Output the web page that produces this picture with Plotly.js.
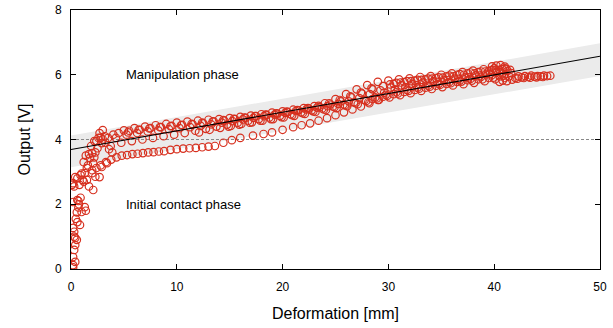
<!DOCTYPE html>
<html>
<head>
<meta charset="utf-8">
<script src="https://cdn.plot.ly/plotly-3.0.1.min.js"></script>
<style>html,body{margin:0;padding:0;background:#fff;}#chart{width:613px;height:328px;}</style>
</head>
<body>
<div id="chart"></div>
<script>
// Initial contact phase points
const contactX = [0.2,0.4,0.2,0.3,0.2,0.4,0.55,0.3,0.4,0.2,0.6,0.85,0.45,0.55,0.7,0.6,1.0,1.3,0.75,0.9,0.7,0.2,0.3,1.4,1.5,2.1,0.2,0.4,1.1,0.6,0.9,1.2,2.7,2.0,1.3,1.6,1.5,2.4,2.9,1.8,2.1,3.4,2.0,2.3,1.7,2.5,2.9,2.7,3.0,2.4,2.8,3.2,3.9,1.0,0.1,0.3,2.2,3.6,1.2,1.9,2.2,2.6,1.4,2.0,0.8,1.7,2.3];
const contactY = [0.12,0.22,0.37,0.59,0.05,0.74,0.9,1.0,0.96,1.27,1.45,1.36,1.55,1.75,1.9,2.13,1.76,1.91,2.0,2.2,2.1,2.07,2.55,1.8,2.75,2.44,2.65,2.84,2.75,2.8,2.9,2.7,2.84,2.96,2.96,3.2,3.12,3.12,3.15,3.43,3.27,3.27,3.58,3.6,3.55,3.73,3.89,4.2,4.29,3.95,4.05,4.1,3.6,2.95,2.6,1.15,3.45,3.7,3.3,3.8,3.95,4.05,3.5,3.05,2.6,2.55,2.85];

// Lower loading branch
const lowerX = [2.8,3.3,3.8,4.3,4.8,5.3,5.8,6.3,6.8,7.3,7.8,8.3,8.8,9.4,10.0,10.6,11.2,11.8,12.4,13.0,13.6,14.4,15.2,16.0,17.2,18.2,19.0,20.0,21.0,21.8,22.6,23.4,24.2,25.0,25.8,26.6,27.4,28.2,29.0];
const lowerY = [3.2,3.3,3.38,3.45,3.5,3.52,3.55,3.56,3.58,3.6,3.61,3.63,3.64,3.68,3.7,3.72,3.73,3.74,3.76,3.78,3.8,3.9,3.98,4.05,4.12,4.17,4.22,4.3,4.38,4.44,4.5,4.58,4.66,4.75,4.84,4.93,5.02,5.12,5.22];

// Main manipulation band rows
const row1X = [3,4,5,6,7,8,9,10,11,12,13,14,15,16,17,18,19,20,21,22,23,24,25,26,27,28,29,30,31,32,33,34,35,36,37,38,39,40,41];
const row1Y = [4.0,4.15,4.28,4.35,4.4,4.44,4.48,4.52,4.55,4.58,4.61,4.63,4.66,4.7,4.74,4.78,4.83,4.87,4.92,4.97,5.03,5.12,5.25,5.4,5.55,5.68,5.78,5.82,5.86,5.89,5.93,5.96,6.0,6.04,6.08,6.13,6.17,6.2,6.2];

const row2X = [3.5,4.5,5.5,6.5,7.5,8.5,9.5,10.5,11.5,12.5,13.5,14.5,15.5,16.5,17.5,18.5,19.5,20.5,21.5,22.5,23.5,24.5,25.5,26.5,27.5,28.5,29.5,30.5,31.5,32.5,33.5,34.5,35.5,36.5,37.5,38.5,39.5,40.5];
const row2Y = [4.05,4.2,4.27,4.3,4.35,4.38,4.42,4.45,4.47,4.5,4.55,4.58,4.63,4.67,4.72,4.76,4.8,4.85,4.9,4.95,5.0,5.08,5.18,5.3,5.42,5.55,5.65,5.72,5.77,5.82,5.86,5.9,5.95,6.0,6.04,6.08,6.12,6.15];

const row3X = [3.25,4.25,5.25,6.25,7.25,8.25,9.25,10.25,11.25,12.25,13.25,14.25,15.25,16.25,17.25,18.25,19.25,20.25,21.25,22.25,23.25,24.25,25.25,26.25,27.25,28.25,29.25,30.25,31.25,32.25,33.25,34.25,35.25,36.25,37.25,38.25,39.25,40.25,41.25];
const row3Y = [3.9,4.05,4.15,4.2,4.25,4.28,4.32,4.35,4.38,4.42,4.47,4.52,4.57,4.62,4.67,4.72,4.77,4.82,4.88,4.93,4.98,5.03,5.1,5.18,5.28,5.4,5.52,5.6,5.67,5.72,5.76,5.8,5.84,5.88,5.93,5.98,6.03,6.08,6.12];

const row4X = [3.75,4.75,5.75,6.75,7.75,8.75,9.75,10.75,11.75,12.75,13.75,14.75,15.75,16.75,17.75,18.75,19.75,20.75,21.75,22.75,23.75,24.75,25.75,26.75,27.75,28.75,29.75,30.75,31.75,32.75,33.75,34.75,35.75,36.75,37.75,38.75,39.75,40.75];
const row4Y = [3.8,3.9,3.95,4.0,4.05,4.1,4.15,4.2,4.27,4.33,4.4,4.46,4.52,4.58,4.63,4.68,4.73,4.78,4.84,4.9,4.96,5.02,5.08,5.15,5.22,5.3,5.38,5.46,5.53,5.6,5.66,5.72,5.77,5.82,5.87,5.93,5.98,6.04];

const row5X = [12.1,13.1,14.1,15.1,16.1,17.1,18.1,19.1,20.1,21.1,22.1,23.1,24.1,25.1,26.1,27.1,28.1,29.1,30.1,31.1,32.1,33.1,34.1,35.1,36.1,37.1,38.1,39.1,40.1];
const row5Y = [4.22,4.3,4.36,4.42,4.48,4.53,4.58,4.63,4.68,4.73,4.79,4.85,4.91,4.97,5.03,5.09,5.15,5.22,5.3,5.37,5.43,5.5,5.56,5.62,5.67,5.71,5.75,5.8,5.86];

const row6X = [28.5,29.5,30.5,31.5,32.5,33.5,34.5,35.5,36.5,37.5,38.5,39.5,40.5];
const row6Y = [5.25,5.32,5.4,5.47,5.53,5.6,5.66,5.72,5.78,5.83,5.86,5.9,5.95];

const row7X = [30.75,31.75,32.75,33.75,34.75,35.75,36.75,37.75,38.75,39.75,40.75];
const row7Y = [5.75,5.8,5.84,5.88,5.92,5.97,6.02,6.07,6.1,6.14,6.18];

const row8X = [5.4,6.4,7.4,8.4,9.4,10.4,11.4,12.4,13.4,14.4,15.4,16.4,17.4,18.4,19.4,20.4,21.4,22.4,23.4,24.4,25.4,26.4,27.4,28.4];
const row8Y = [4.22,4.3,4.34,4.38,4.41,4.44,4.48,4.52,4.56,4.6,4.64,4.68,4.72,4.77,4.81,4.86,4.91,4.97,5.04,5.12,5.22,5.33,5.45,5.58];

const row9X = [14.9,15.9,16.9,17.9,18.9,19.9,20.9,21.9,22.9,23.9,24.9,25.9,26.9,27.9,28.9,29.9,30.9,31.9,32.9,33.9,34.9,35.9,36.9,37.9,38.9,39.9,40.9];
const row9Y = [4.4,4.46,4.52,4.58,4.63,4.69,4.75,4.81,4.87,4.93,5.0,5.06,5.12,5.19,5.27,5.35,5.42,5.5,5.57,5.63,5.69,5.74,5.79,5.82,5.86,5.91,5.97];

const row10X = [30.15,31.15,32.15,33.15,34.15,35.15,36.15,37.15,38.15,39.15,40.15,41.15];
const row10Y = [5.7,5.76,5.8,5.84,5.88,5.91,5.95,6.0,6.04,6.1,6.15,6.18];

const row11X = [29.6,30.6,31.6,32.6,33.6,34.6,35.6,36.6,37.6,38.6,39.6,40.6];
const row11Y = [5.45,5.55,5.62,5.68,5.73,5.78,5.83,5.87,5.92,5.97,6.02,6.08];

// Unloading tail
const tailX = [41.5,41.6,41.4,41.7,41.2,42.0,42.3,42.6,42.9,43.2,43.5,43.8,44.1,44.4,44.7,45.0,45.3,42.2,42.8,43.4,44.0,44.6,41.0,40.8,40.5,41.0,40.6,40.2,39.8];
const tailY = [6.15,6.05,5.95,5.85,5.8,5.9,5.95,5.92,5.96,5.93,5.97,5.94,5.96,5.95,5.97,5.96,5.97,5.88,5.9,5.91,5.92,5.93,5.9,5.82,5.78,6.25,6.3,6.28,6.26];

// Linear fit and band
const fitX = [0, 50];
const fitY = [3.69, 6.57];
const bandX = [0, 50];
const bandTop = [4.12, 6.97];
const bandBottom = [3.14, 5.96];
const refX = [0, 50];
const refY = [4, 4];

const xTicks = [0, 10, 20, 30, 40, 50];
const yTicks = [0, 2, 4, 6, 8];

const allX = [].concat(contactX, lowerX, row1X, row2X, row3X, row4X, row5X, row6X, row7X, row8X, row9X, row10X, row11X, tailX);
const allY = [].concat(contactY, lowerY, row1Y, row2Y, row3Y, row4Y, row5Y, row6Y, row7Y, row8Y, row9Y, row10Y, row11Y, tailY);

const traces = [
  {x: bandX.concat(bandX.slice().reverse()), y: bandTop.concat(bandBottom.slice().reverse()),
   type: 'scatter', mode: 'lines', fill: 'toself', fillcolor: '#ebebeb', line: {width: 0}, hoverinfo: 'skip'},
  {x: refX, y: refY, type: 'scatter', mode: 'lines', line: {color: '#888', width: 1, dash: '3px,2px'}},
  {x: allX, y: allY, type: 'scatter', mode: 'markers',
   marker: {symbol: 'circle-open', size: 7.5, color: '#d7301f', line: {width: 1.2, color: '#d7301f'}}},
  {x: fitX, y: fitY, type: 'scatter', mode: 'lines', line: {color: '#000', width: 1.1}}
];

const axisCommon = {
  showgrid: false, zeroline: false, showline: true, linecolor: '#000', linewidth: 1,
  mirror: 'all', ticks: 'inside', ticklen: 5, tickcolor: '#000', tickwidth: 1,
  tickfont: {size: 12, color: '#000', family: 'Liberation Sans, Arial, sans-serif'}
};

const layout = {
  width: 613, height: 328,
  margin: {l: 71, r: 13, t: 10, b: 59},
  paper_bgcolor: '#fff', plot_bgcolor: '#fff',
  showlegend: false,
  font: {family: 'Liberation Sans, Arial, sans-serif', color: '#000'},
  xaxis: Object.assign({}, axisCommon, {range: [0, 50], tickvals: xTicks, ticklabelstandoff: 7,
    title: {text: 'Deformation [mm]', font: {size: 16}, standoff: 14}}),
  yaxis: Object.assign({}, axisCommon, {range: [0, 8], tickvals: yTicks, ticklabelstandoff: 6,
    title: {text: 'Output [V]', font: {size: 16}, standoff: 20}}),
  annotations: [
    {x: 5, y: 6, xref: 'x', yref: 'y', text: 'Manipulation phase', showarrow: false, xanchor: 'left', yanchor: 'middle', font: {size: 13}},
    {x: 5, y: 2, xref: 'x', yref: 'y', text: 'Initial contact phase', showarrow: false, xanchor: 'left', yanchor: 'middle', font: {size: 13}}
  ]
};

Plotly.newPlot('chart', traces, layout, {displayModeBar: false, staticPlot: true});
</script>
</body>
</html>
